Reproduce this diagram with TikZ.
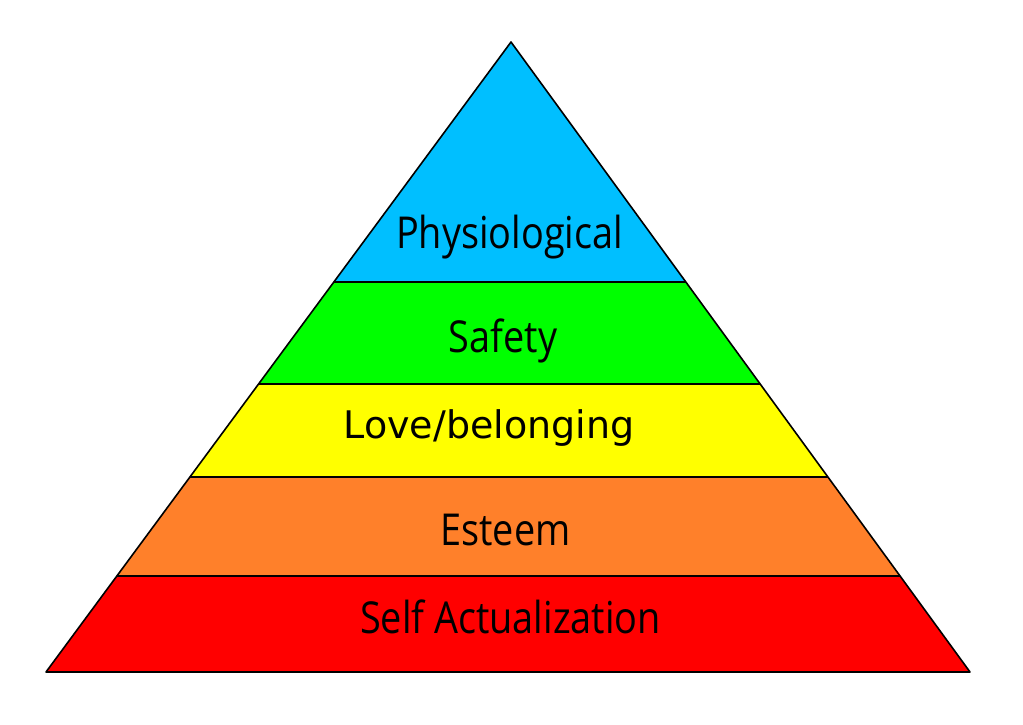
\documentclass[tikz,border=0pt]{standalone}
\usepackage{fontspec}
\usepackage{tikz}
\usetikzlibrary{positioning, calc}
\setmainfont{Open Sans}
\newfontfamily\levelfont[FakeStretch=0.86]{Open Sans}
\newfontfamily\dejavu{DejaVu Sans}
\definecolor{skyblue}{RGB}{0, 191, 255}
\definecolor{limegreen}{RGB}{0, 255, 0}
\definecolor{brightyellow}{RGB}{255, 255, 0}
\definecolor{pumpkin}{RGB}{255, 128, 42}
\definecolor{brightred}{RGB}{255, 0, 0}

\begin{document}
\begin{tikzpicture}[
    x=0.5pt, y=-0.5pt,
    band/.style={draw=black, line width=0.8pt, line join=round},
    level/.style={anchor=base, inner sep=0pt, font=\fontsize{22}{24}\selectfont\levelfont, text=black}
]
    \useasboundingbox (0,0) rectangle (1023,724);

    % corners of the pyramid
    \coordinate (apex) at (511,42);
    \coordinate (bl) at (46,672);
    \coordinate (br) at (970,672);

    % bands, from top to bottom
    \fill[skyblue] (apex) -- (685.9,282) -- (333.9,282) -- cycle;
    \fill[limegreen] (333.9,282) -- (685.9,282) -- (760.2,384) -- (258.6,384) -- cycle;
    \fill[brightyellow] (258.6,384) -- (760.2,384) -- (827.9,477) -- (189.9,477) -- cycle;
    \fill[pumpkin] (189.9,477) -- (827.9,477) -- (900.1,576) -- (116.9,576) -- cycle;
    \fill[brightred] (116.9,576) -- (900.1,576) -- (br) -- (bl) -- cycle;

    \draw[band] (apex) -- (br) -- (bl) -- cycle;
    \draw[band] (333.9,282) -- (685.9,282);
    \draw[band] (258.6,384) -- (760.2,384);
    \draw[band] (189.9,477) -- (827.9,477);
    \draw[band] (116.9,576) -- (900.1,576);

    % labels
    \node[level] (physio) at (509.5,248) {Physiological};
    \node[level] (safety) at (503,352) {Safety};
    \node[level, font=\fontsize{19}{21}\selectfont\dejavu] (love) at (489,438) {Love/belonging};
    \node[level] (esteem) at (505.5,545) {Esteem};
    \node[level] (selfact) at (510.5,633) {Self Actualization};
\end{tikzpicture}
\end{document}
